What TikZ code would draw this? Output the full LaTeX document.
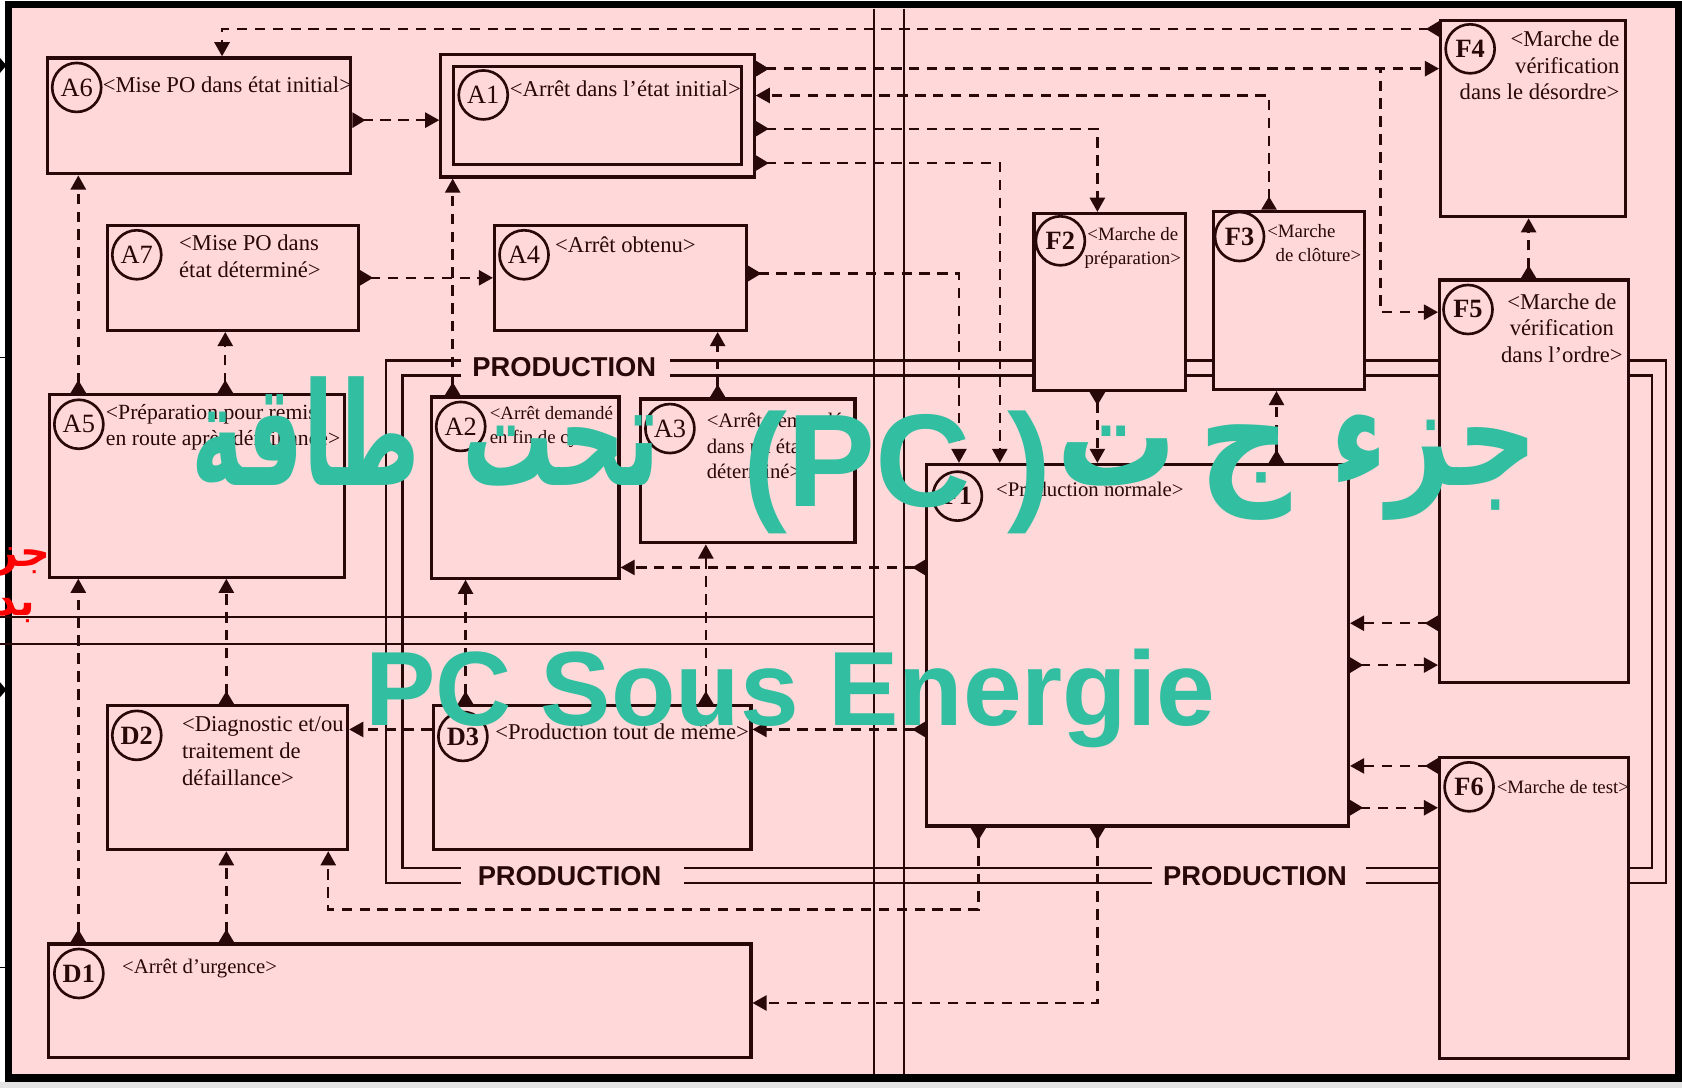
\documentclass[tikz,border=0pt]{standalone}
\usepackage{graphicx}
\usepackage{fontspec}
\setmainfont{Liberation Serif}
\newfontfamily\sansgras{Liberation Sans}
\newfontfamily\arabicfont[Script=Arabic]{DejaVu Sans}
\TeXXeTstate=1
\usetikzlibrary{arrows.meta,calc,fit}

\definecolor{rose}{RGB}{255,217,218}
\definecolor{trait}{RGB}{40,8,8}
\definecolor{turquoise}{RGB}{50,190,160}
\definecolor{grisbas}{RGB}{228,228,228}

\tikzset{
  depart/.tip={Triangle[reversed,length=7pt,width=8pt]},
  arrivee/.tip={Triangle[length=7.5pt,width=8pt]},
  boite/.style={draw=trait,line width=1.7pt,fill=rose,inner sep=0pt},
  pastille/.style={circle,draw=trait,line width=1.4pt,minimum size=26pt,inner sep=0pt,text=trait,font=\fontsize{14}{14}\selectfont},
  libelle/.style={inner sep=0pt,text=trait,font=\fontsize{12}{14.2}\selectfont},
  petit/.style={font=\fontsize{10}{12.5}\selectfont},
  moyen/.style={font=\fontsize{11}{13.5}\selectfont},
  lien/.style={draw=trait,line width=1.3pt,dash pattern=on 5.5pt off 4pt,-arrivee},
  liaison/.style={lien,depart-arrivee},
  prod/.style={draw=trait,line width=1.4pt},
  zone/.style={draw=trait,line width=1.1pt},
  titreprod/.style={inner sep=0pt,text=trait,font=\sansgras\bfseries\fontsize{14.5}{14.5}\selectfont},
  filigrane/.style={inner sep=0pt,text=turquoise},
  motarabe/.style={filigrane,anchor=base,font=\arabicfont\bfseries\fontsize{76}{76}\selectfont},
}

\begin{document}
\begin{tikzpicture}[x=0.02cm,y=-0.02cm]
	\useasboundingbox (0,0) rectangle (1568,1014);
	\fill[white] (0,0) rectangle (1568,1014);
	\fill[grisbas] (0,1009) rectangle (1568,1014);
	\fill[rose] (8,4) rectangle (1565,1005);

	% bouts de la page voisine
	\fill[black] (0,54) -- (6,61) -- (0,68) -- cycle;
	\fill[black] (0,636) -- (6,643) -- (0,650) -- cycle;
	\draw[black,line width=0.6pt] (0,333) -- (8,333);
	\draw[black,line width=0.6pt] (0,902) -- (8,902);

	\draw[black,line width=4pt] (8,4) rectangle (1565,1005);

	% zones
	\draw[zone] (815,8) -- (815,1001);
	\draw[zone] (843,8) -- (843,1001);
	\draw[zone] (0,575) -- (815,575);
	\draw[zone] (0,600) -- (815,600);

	% etats
	\node[boite, fit={(44,54) (327,162)}] (A6) {};
	\node[boite, fit={(411,51) (703,165)}] (A1) {};
	\node[boite, fit={(423,62) (691,153)}] (A1i) {};
	\node[boite, fit={(100,210) (334,308)}] (A7) {};
	\node[boite, fit={(461,210) (696,308)}] (A4) {};
	\node[boite, fit={(46,368) (321,538)}] (A5) {};
	\node[boite, fit={(402,370) (577,539)}] (A2) {};
	\node[boite, fit={(597,372) (797,506)}] (A3) {};
	\node[boite, fit={(864,433) (1257,770)}] (F1) {};
	\node[boite, fit={(964,199) (1105,364)}] (F2) {};
	\node[boite, fit={(1131,197) (1272,363)}] (F3) {};
	\node[boite, fit={(1343,19) (1515,202)}] (F4) {};
	\node[boite, fit={(1342,261) (1518,636)}] (F5) {};
	\node[boite, fit={(1342,706) (1518,987)}] (F6) {};
	\node[boite, fit={(100,658) (324,792)}] (D2) {};
	\node[boite, fit={(404,658) (700,792)}] (D3) {};
	\node[boite, fit={(45,880) (700,986)}] (D1) {};

	% boucle PRODUCTION
	\foreach \xg/\yh/\yb/\xd in {360/336/823/1553, 375/350/809/1540}{
		\draw[prod] (430,\yh) -| (\xg,\yb) -- (430,\yb);
		\draw[prod] (625,\yh) -- (F2.west |- 0,\yh) (F2.east |- 0,\yh) -- (F3.west |- 0,\yh) (F3.east |- 0,\yh) -- (F5.west |- 0,\yh);
		\draw[prod] (F5.east |- 0,\yh) -| (\xd,\yb) -- (F6.east |- 0,\yb);
		\draw[prod] (638,\yb) -- (1074,\yb) (1273,\yb) -- (F6.west |- 0,\yb);
		}
	\node[titreprod] (prod1) at (526,342) {PRODUCTION};
	\node[titreprod] (prod2) at (531,817) {PRODUCTION};
	\node[titreprod] (prod3) at (1170,817) {PRODUCTION};

	% reperes
	\foreach \n in {A2,A3,A4,A5,A6,A7}{
		\node[pastille] (c\n) at ($(\n.north west)+(29,29)$) {\n};
		}
	\node[pastille] (cA1) at ($(A1i.north west)+(29,28)$) {A1};
	\foreach \n/\dx/\dy in {D1/30/29,D2/29/29,D3/29/30,F1/30/31,F2/26/27,F3/26/25,F4/29/28,F5/28/29,F6/29/29}{
		\node[pastille] (c\n) at ($(\n.north west)+(\dx,\dy)$) {\bfseries\n};
		}

	% textes
	\node[libelle] (A6t) at (212,79) {<Mise PO dans état initial>};
	\node[libelle] (A1t) at (583,83) {<Arrêt dans l'état initial>};
	\node[libelle,align=left] (A7t) at (233,239) {<Mise PO dans\\état déterminé>};
	\node[libelle] (A4t) at (583,228) {<Arrêt obtenu>};
	\node[libelle,align=left,font=\fontsize{11.5}{13.8}\selectfont] (A5t) at (208,398) {<Préparation pour remise\\en route après défaillance>};
	\node[libelle,petit,align=left] (A2t) at (514,398) {<Arrêt demandé\\en fin de cycle>};
	\node[libelle,moyen,align=left] (A3t) at (722,416) {<Arrêt demandé\\dans un état\\déterminé>};
	\node[libelle,moyen] (F1t) at (1016,456) {<Production normale>};
	\node[libelle,petit,align=center] (F2t) at (1056,231) {<Marche de\\préparation>};
	\node[libelle,petit,align=left,anchor=north west] (F3t) at (1181,209) {<Marche\\\hspace*{4.5pt}de clôture>};
	\node[libelle,align=right,anchor=east] (F4t) at (1510,61) {<Marche de\\vérification\\dans le désordre>};
	\node[libelle,align=center] (F5t) at (1456,306) {<Marche de\\vérification\\dans l'ordre>};
	\node[libelle,petit] (F6t) at (1457,734) {<Marche de test>};
	\node[libelle,align=left] (D2t) at (245,700) {<Diagnostic et/ou\\traitement de\\défaillance>};
	\node[libelle] (D3t) at (580,682) {<Production tout de même>};
	\node[libelle,moyen] (D1t) at (186,903) {<Arrêt d’urgence>};

	% liaisons
	\draw[liaison] (F4.west |- 0,27) -| (A6.north -| 207,0);
	\draw[liaison] (A6.east |- 0,112) -- (A1.west |- 0,112);
	\draw[liaison] (A1.east |- 0,64) -- (F4.west |- 0,64);
	\draw[liaison] (A1.east |- 0,64) -| (1287,291) -- (F5.west |- 0,291);
	\draw[liaison] (F3.north -| 1183,0) |- (A1.east |- 0,89);
	\draw[liaison] (A1.east |- 0,120) -| (F2.north -| 1023,0);
	\draw[liaison] (A1.east |- 0,152) -| (F1.north -| 932,0);
	\draw[liaison] (A7.east |- 0,259) -- (A4.west |- 0,259);
	\draw[liaison] (A4.east |- 0,255) -| (F1.north -| 894,0);
	\draw[liaison] (A5.north -| 73,0) -- (A6.south -| 73,0);
	\draw[liaison] (A5.north -| 210,0) -- (A7.south -| 210,0);
	\draw[liaison] (D1.north -| 73,0) -- (A5.south -| 73,0);
	\draw[liaison] (D2.north -| 211,0) -- (A5.south -| 211,0);
	\draw[liaison] (D1.north -| 211,0) -- (D2.south -| 211,0);
	\draw[liaison] (F1.south -| 912,0) |- (306,848) -- (D2.south -| 306,0);
	\draw[liaison] (F1.south -| 1023,0) |- (D1.east |- 0,935);
	\draw[liaison] (A2.north -| 422,0) -- (A1.south -| 422,0);
	\draw[liaison] (D3.north -| 434,0) -- (A2.south -| 434,0);
	\draw[liaison] (D3.north -| 658,0) -- (A3.south -| 658,0);
	\draw[liaison] (A3.north -| 669,0) -- (A4.south -| 669,0);
	\draw[liaison] (F1.west |- 0,529) -- (A2.east |- 0,529);
	\draw[liaison] (F1.west |- 0,680) -- (D3.east |- 0,680);
	\draw[lien] (D3.west |- 0,680) -- (D2.east |- 0,680);
	\draw[liaison] (F2.south -| 1023,0) -- (F1.north -| 1023,0);
	\draw[liaison] (F1.north -| 1190,0) -- (F3.south -| 1190,0);
	\draw[liaison] (F5.north -| 1425,0) -- (F4.south -| 1425,0);
	\draw[liaison] (F5.west |- 0,581) -- (F1.east |- 0,581);
	\draw[liaison] (F1.east |- 0,620) -- (F5.west |- 0,620);
	\draw[liaison] (F6.west |- 0,714) -- (F1.east |- 0,714);
	\draw[liaison] (F1.east |- 0,753) -- (F6.west |- 0,753);

	% filigrane
	\node[motarabe] (mot1) at (285,453) {\scalebox{0.62}[1]{\beginR طاقة\endR}};
	\node[motarabe] (mot2) at (523,453) {\scalebox{0.64}[1]{\beginR تحت\endR}};
	\node[filigrane,anchor=base west,font=\sansgras\bfseries\fontsize{70}{70}\selectfont] (pc) at (693,472) {(PC\ )};
	\node[motarabe] (mot3) at (1041,453) {\scalebox{0.84}[1]{\beginR ت\endR}};
	\node[motarabe] (mot4) at (1161,453) {\scalebox{0.9}[1]{\beginR ج\endR}};
	\node[motarabe] (mot5) at (1337,453) {\scalebox{0.78}[1]{\beginR جزء\endR}};
	\node[filigrane,anchor=base west,font=\sansgras\bfseries\fontsize{56}{56}\selectfont] (sous) at (340,676) {PC Sous Energie};

	\node[anchor=base east,inner sep=0pt,text=red,font=\arabicfont\bfseries\fontsize{22}{22}\selectfont] (rouge1) at (47,528) {\beginR جزء ج ت\endR};
	\node[anchor=base east,inner sep=0pt,text=red,font=\arabicfont\bfseries\fontsize{22}{22}\selectfont] (rouge2) at (33,574) {\beginR بدون طاقة\endR};
\end{tikzpicture}
\end{document}
